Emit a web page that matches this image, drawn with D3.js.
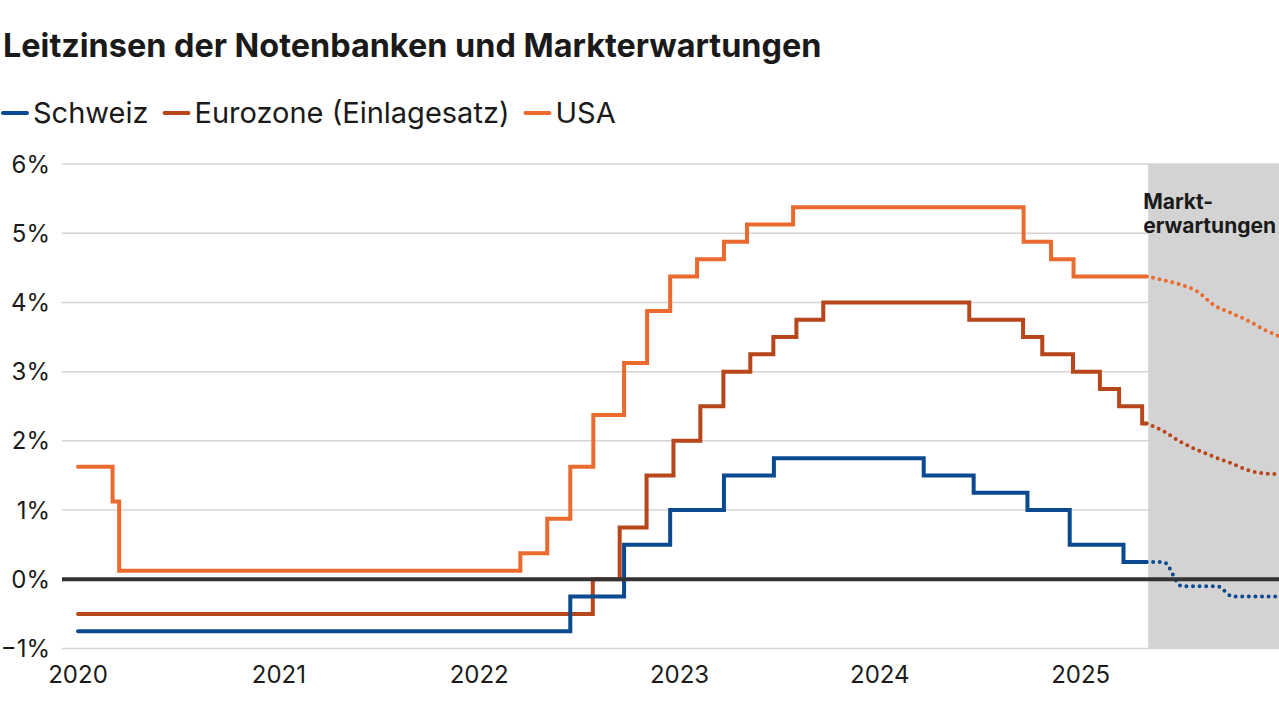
<!DOCTYPE html>
<html>
<head>
<meta charset="utf-8">
<script src="https://cdn.jsdelivr.net/npm/d3@7"></script>
<style>
  html, body { margin: 0; padding: 0; background: #fff; overflow: hidden; }
  svg { display: block; font-family: Inter, "Noto Sans", sans-serif; }
</style>
</head>
<body>
<svg id="chart" width="1279" height="720"></svg>
<script>
// --- data ---
var yTicks = [-1, 0, 1, 2, 3, 4, 5, 6];
var xTickYears = [2020, 2021, 2022, 2023, 2024, 2025];

// Schweiz: SNB Leitzins
var chDates = ["2020-01-01", "2022-06-16", "2022-09-22", "2022-12-15", "2023-03-23", "2023-06-22",
               "2024-03-21", "2024-06-20", "2024-09-26", "2024-12-12", "2025-03-20", "2025-05-01"];
var chValues = [-0.75, -0.25, 0.5, 1.0, 1.5, 1.75, 1.5, 1.25, 1.0, 0.5, 0.25, 0.25];

// Eurozone: Einlagesatz
var euDates = ["2020-01-01", "2022-07-27", "2022-09-14", "2022-11-02", "2022-12-21", "2023-02-08",
               "2023-03-22", "2023-05-10", "2023-06-21", "2023-08-02", "2023-09-20", "2024-06-12",
               "2024-09-18", "2024-10-23", "2024-12-18", "2025-02-05", "2025-03-12", "2025-04-23", "2025-05-01"];
var euValues = [-0.5, 0.0, 0.75, 1.5, 2.0, 2.5, 3.0, 3.25, 3.5, 3.75, 4.0, 3.75,
                3.5, 3.25, 3.0, 2.75, 2.5, 2.25, 2.25];

// USA: Fed Funds (Mitte des Zielbands)
var usDates = ["2020-01-01", "2020-03-04", "2020-03-16", "2022-03-17", "2022-05-05", "2022-06-16",
               "2022-07-28", "2022-09-22", "2022-11-03", "2022-12-15", "2023-02-02", "2023-03-23",
               "2023-05-04", "2023-07-27", "2024-09-19", "2024-11-08", "2024-12-19", "2025-05-01"];
var usValues = [1.625, 1.125, 0.125, 0.375, 0.875, 1.625, 2.375, 3.125, 3.875, 4.375, 4.625, 4.875,
                5.125, 5.375, 4.875, 4.625, 4.375, 4.375];

// Markterwartungen
var chFcDates = ["2025-05-01", "2025-06-01", "2025-07-04", "2025-09-07", "2025-10-05", "2026-03-01"];
var chFcValues = [0.25, 0.25, -0.10, -0.10, -0.25, -0.25];
var euFcDates = ["2025-05-01", "2025-06-01", "2025-07-01", "2025-08-01", "2025-09-01", "2025-10-01",
                 "2025-11-01", "2025-12-01", "2026-01-01", "2026-02-01"];
var euFcValues = [2.25, 2.14, 1.99, 1.87, 1.77, 1.68, 1.58, 1.53, 1.52, 1.52];
var usFcDates = ["2025-05-01", "2025-06-01", "2025-07-01", "2025-08-01", "2025-09-01", "2025-10-01",
                 "2025-11-01", "2025-12-01", "2026-01-01", "2026-02-01"];
var usFcValues = [4.375, 4.32, 4.26, 4.16, 3.96, 3.85, 3.74, 3.61, 3.50, 3.42];

var forecastStart = "2025-05-04";

var seriesNames = ["Schweiz", "Eurozone (Einlagesatz)", "USA"];
var seriesColors = ["#0b4a90", "#b8461b", "#eb6a2e"];

// --- setup ---
var parse = d3.timeParse("%Y-%m-%d");
var svg = d3.select("#chart");
var W = 1279;

var x = d3.scaleTime()
    .domain([parse("2020-01-01"), parse("2026-01-01")])
    .range([78, 1281]);
var y = d3.scaleLinear()
    .domain([-1, 6])
    .range([648.5, 164]);

var gridLeft = 62;

function zip(dates, values) {
    return dates.map(function (d, i) { return { date: parse(d), value: values[i] }; });
}

// gridlines
svg.append("g")
    .selectAll("line")
    .data(yTicks.filter(function (t) { return t !== 0; }))
    .join("line")
    .attr("x1", gridLeft)
    .attr("x2", W)
    .attr("y1", function (d) { return y(d); })
    .attr("y2", function (d) { return y(d); })
    .attr("stroke", "#d4d4d4")
    .attr("stroke-width", 1.5);

// shaded forecast area (covers the gridlines)
svg.append("rect")
    .attr("x", x(parse(forecastStart)))
    .attr("y", y(6))
    .attr("width", W - x(parse(forecastStart)))
    .attr("height", y(-1) - y(6))
    .attr("fill", "#d3d3d3");

// y axis labels
svg.append("g")
    .selectAll("text")
    .data(yTicks)
    .join("text")
    .attr("x", 50)
    .attr("y", function (d) { return y(d); })
    .attr("dy", "0.36em")
    .attr("text-anchor", "end")
    .attr("font-size", 24)
    .attr("fill", "#1a1a1a")
    .text(function (d) { return (d < 0 ? "\u2212" + Math.abs(d) : d) + "%"; });

// x axis labels
svg.append("g")
    .selectAll("text")
    .data(xTickYears)
    .join("text")
    .attr("x", function (d) { return x(new Date(d, 0, 1)); })
    .attr("y", 683)
    .attr("text-anchor", "middle")
    .attr("font-size", 24)
    .attr("fill", "#1a1a1a")
    .text(function (d) { return d; });

// lines
var stepLine = d3.line()
    .x(function (d) { return x(d.date); })
    .y(function (d) { return y(d.value); })
    .curve(d3.curveStepAfter);
var smoothLine = d3.line()
    .x(function (d) { return x(d.date); })
    .y(function (d) { return y(d.value); })
    .curve(d3.curveMonotoneX);

var actual = [zip(chDates, chValues), zip(euDates, euValues), zip(usDates, usValues)];
var forecast = [zip(chFcDates, chFcValues), zip(euFcDates, euFcValues), zip(usFcDates, usFcValues)];

// Schweiz on top
[2, 1, 0].forEach(function (i) {
    svg.append("path")
        .attr("d", smoothLine(forecast[i]))
        .attr("fill", "none")
        .attr("stroke", seriesColors[i])
        .attr("stroke-width", 4)
        .attr("stroke-linecap", "round")
        .attr("stroke-dasharray", "0 6.6");
    svg.append("path")
        .attr("d", stepLine(actual[i]))
        .attr("fill", "none")
        .attr("stroke", seriesColors[i])
        .attr("stroke-width", 4)
        .attr("stroke-linejoin", "miter")
        .attr("stroke-linecap", "round");
});

// zero line on top of the series
svg.append("line")
    .attr("x1", gridLeft)
    .attr("x2", W)
    .attr("y1", y(0))
    .attr("y2", y(0))
    .attr("stroke", "#333")
    .attr("stroke-width", 4);

// forecast label (kept inside the picture)
var lblX = x(parse(forecastStart)) - 5;
var lbl = svg.append("text")
    .attr("y", 209)
    .attr("font-size", 21)
    .attr("font-weight", 700)
    .attr("fill", "#1a1a1a");
lbl.append("tspan").attr("x", lblX).text("Markt-");
lbl.append("tspan").attr("x", lblX).attr("dy", 24).text("erwartungen");

// title
svg.append("text")
    .attr("x", 3)
    .attr("y", 57)
    .attr("font-size", 32.4)
    .attr("font-weight", 700)
    .attr("fill", "#1a1a1a")
    .text("Leitzinsen der Notenbanken und Markterwartungen");

// legend
var lx = 3;
seriesNames.forEach(function (name, i) {
    svg.append("line")
        .attr("x1", lx)
        .attr("x2", lx + 24)
        .attr("y1", 113)
        .attr("y2", 113)
        .attr("stroke", seriesColors[i])
        .attr("stroke-width", 4)
        .attr("stroke-linecap", "round");
    var t = svg.append("text")
        .attr("x", lx + 30)
        .attr("y", 123)
        .attr("font-size", 29)
        .attr("fill", "#1a1a1a")
        .text(name);
    lx = lx + 30 + t.node().getComputedTextLength() + 16;
});
</script>
</body>
</html>
